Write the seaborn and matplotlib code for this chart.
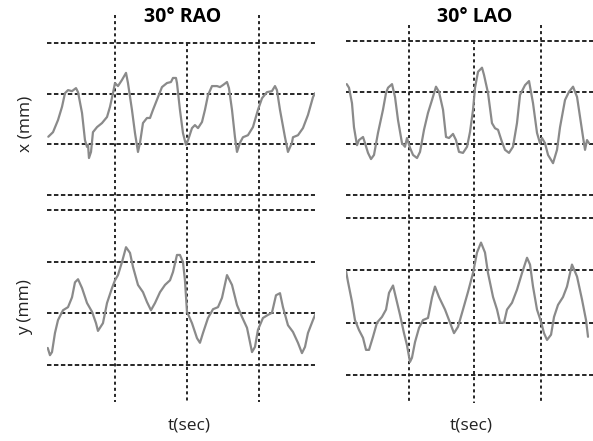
import numpy as np
import pandas as pd
import matplotlib
matplotlib.use("Agg")
import matplotlib.pyplot as plt
import seaborn as sns

# ---------------- data ----------------
titles = ["30° RAO", "30° LAO"]
row_labels = ["x (mm)", "y (mm)"]
xlabel = "t(sec)"
h_grid = [0, 1, 2, 3]
t_grid = [0.94, 1.93, 2.93]

t_rao_x = [0.018, 0.083, 0.152, 0.207, 0.248, 0.290, 0.345, 0.400, 0.428, 0.483, 0.524, 0.552, 0.566, 0.579, 0.607,
           0.634, 0.690, 0.759, 0.828, 0.869, 0.910, 0.938, 0.979, 1.034, 1.090, 1.117, 1.172, 1.214, 1.255, 1.283,
           1.324, 1.379, 1.421, 1.462, 1.531, 1.586, 1.655, 1.710, 1.738, 1.779, 1.793, 1.834, 1.876, 1.917, 1.945,
           2.000, 2.041, 2.083, 2.138, 2.179, 2.221, 2.276, 2.345, 2.386, 2.428, 2.483, 2.510, 2.552, 2.593, 2.621,
           2.662, 2.703, 2.772, 2.841, 2.910, 2.966, 3.034, 3.103, 3.145, 3.172, 3.214, 3.283, 3.324, 3.379, 3.393,
           3.462, 3.531, 3.600, 3.669, 3.697]
v_rao_x = [1.15, 1.24, 1.48, 1.74, 2.01, 2.07, 2.05, 2.11, 2.03, 1.62, 1.08, 0.95, 0.99, 0.73, 0.85,
           1.24, 1.34, 1.42, 1.54, 1.74, 2.01, 2.21, 2.15, 2.27, 2.41, 2.21, 1.68, 1.22, 0.85, 1.03,
           1.42, 1.52, 1.52, 1.68, 1.93, 2.13, 2.21, 2.23, 2.31, 2.31, 2.21, 1.68, 1.22, 0.99, 1.08,
           1.32, 1.38, 1.32, 1.44, 1.68, 1.97, 2.15, 2.15, 2.13, 2.17, 2.23, 2.11, 1.68, 1.14, 0.85,
           1.03, 1.14, 1.18, 1.34, 1.68, 1.91, 2.03, 2.05, 2.15, 2.07, 1.68, 1.14, 0.85, 1.03, 1.14,
           1.18, 1.32, 1.58, 1.93, 2.01]

t_rao_y = [0.010, 0.041, 0.069, 0.110, 0.152, 0.221, 0.290, 0.345, 0.386, 0.428, 0.483, 0.552, 0.621, 0.676, 0.703,
           0.772, 0.828, 0.897, 0.938, 0.979, 1.034, 1.090, 1.145, 1.186, 1.255, 1.324, 1.379, 1.434, 1.490, 1.559,
           1.628, 1.697, 1.738, 1.793, 1.834, 1.876, 1.903, 1.931, 2.000, 2.069, 2.110, 2.152, 2.221, 2.290, 2.359,
           2.414, 2.483, 2.552, 2.621, 2.690, 2.759, 2.828, 2.869, 2.910, 2.979, 3.048, 3.103, 3.159, 3.214, 3.255,
           3.324, 3.393, 3.462, 3.517, 3.559, 3.600, 3.669, 3.710]
v_rao_y = [0.33, 0.19, 0.25, 0.62, 0.87, 1.06, 1.12, 1.31, 1.60, 1.66, 1.49, 1.20, 1.03, 0.81, 0.66,
           0.81, 1.20, 1.49, 1.64, 1.74, 1.99, 2.28, 2.17, 1.90, 1.55, 1.41, 1.22, 1.06, 1.20, 1.41,
           1.55, 1.64, 1.80, 2.13, 2.13, 1.99, 1.64, 1.03, 0.81, 0.52, 0.43, 0.62, 0.91, 1.08, 1.12,
           1.30, 1.74, 1.55, 1.16, 0.93, 0.72, 0.25, 0.35, 0.68, 0.91, 0.97, 1.01, 1.35, 1.39, 1.12,
           0.77, 0.64, 0.43, 0.23, 0.35, 0.62, 0.87, 1.01]

t_lao_x = [0.011, 0.045, 0.090, 0.120, 0.165, 0.195, 0.256, 0.286, 0.331, 0.376, 0.421, 0.481, 0.556, 0.602, 0.632,
           0.692, 0.737, 0.782, 0.842, 0.887, 0.917, 0.962, 1.008, 1.068, 1.113, 1.173, 1.233, 1.293, 1.353, 1.398,
           1.459, 1.504, 1.549, 1.609, 1.654, 1.699, 1.759, 1.820, 1.865, 1.910, 1.940, 1.985, 2.045, 2.075, 2.135,
           2.195, 2.241, 2.286, 2.346, 2.391, 2.451, 2.511, 2.571, 2.617, 2.692, 2.752, 2.812, 2.872, 2.917, 2.947,
           2.992, 3.038, 3.113, 3.173, 3.218, 3.293, 3.353, 3.414, 3.474, 3.519, 3.564, 3.594, 3.624, 3.654]
v_lao_x = [2.16, 2.09, 1.79, 1.32, 0.97, 1.07, 1.13, 1.01, 0.82, 0.70, 0.78, 1.21, 1.66, 1.99, 2.09,
           2.16, 1.91, 1.46, 1.01, 0.94, 1.11, 0.92, 0.78, 0.72, 0.84, 1.27, 1.60, 1.85, 2.11, 2.01,
           1.66, 1.13, 1.11, 1.19, 1.07, 0.84, 0.82, 0.94, 1.23, 1.66, 2.09, 2.40, 2.48, 2.34, 1.99,
           1.40, 1.30, 1.27, 1.03, 0.88, 0.82, 0.94, 1.40, 1.95, 2.14, 2.22, 1.79, 1.21, 1.01, 1.11,
           1.01, 0.78, 0.62, 0.88, 1.32, 1.85, 2.01, 2.11, 1.91, 1.52, 1.13, 0.88, 1.07, 1.01]

t_lao_y = [0.000, 0.030, 0.090, 0.135, 0.195, 0.256, 0.301, 0.346, 0.406, 0.466, 0.541, 0.602, 0.647, 0.707, 0.752,
           0.812, 0.872, 0.917, 0.962, 0.992, 1.038, 1.098, 1.158, 1.233, 1.293, 1.338, 1.398, 1.489, 1.564, 1.624,
           1.684, 1.759, 1.835, 1.910, 1.970, 2.030, 2.090, 2.135, 2.211, 2.271, 2.316, 2.376, 2.421, 2.496, 2.571,
           2.647, 2.722, 2.767, 2.812, 2.872, 2.932, 2.977, 3.023, 3.083, 3.128, 3.188, 3.263, 3.323, 3.398, 3.474,
           3.549, 3.609, 3.639]
v_lao_y = [1.99, 1.78, 1.40, 1.05, 0.86, 0.71, 0.48, 0.48, 0.73, 1.00, 1.11, 1.25, 1.57, 1.71, 1.47,
           1.15, 0.80, 0.57, 0.25, 0.33, 0.63, 0.90, 1.05, 1.09, 1.48, 1.69, 1.49, 1.25, 1.00, 0.80,
           0.92, 1.25, 1.59, 1.95, 2.34, 2.53, 2.34, 1.95, 1.49, 1.25, 1.00, 1.00, 1.25, 1.38, 1.63,
           1.95, 2.24, 2.11, 1.69, 1.25, 1.02, 0.80, 0.67, 0.77, 1.11, 1.34, 1.49, 1.69, 2.11, 1.88,
           1.44, 1.05, 0.73]

# ---------------- style / layout ----------------
W, H = 593, 441
sns.set_theme(style="white")
plt.rcParams["font.family"] = ["Open Sans", "DejaVu Sans"]
plt.rcParams["lines.scale_dashes"] = False

fig = plt.figure(figsize=(W / 100, H / 100), dpi=100)
fig.patch.set_facecolor("white")

def px_axes(x0, y0, x1, y1):
    return fig.add_axes([x0 / W, 1 - y1 / H, (x1 - x0) / W, (y1 - y0) / H])

grid_color = "#262626"
line_color = "#8a8a8a"
text_color = "#222222"
hdash = (0, (3.2, 1.8))
vdash = (0, (2.2, 2.2))

columns = [
    dict(x0=47, x1=315, boxes=[(43, 195), (210, 365)], xmax=3.697,
         vtop_outer=15, vtop_mid=43, vbot=402,
         series=[(t_rao_x, v_rao_x), (t_rao_y, v_rao_y)], title_x=183, xlab_x=189),
    dict(x0=346, x1=593, boxes=[(41, 195), (218, 375)], xmax=3.714,
         vtop_outer=25, vtop_mid=41, vbot=403,
         series=[(t_lao_x, v_lao_x), (t_lao_y, v_lao_y)], title_x=475, xlab_x=471),
]

for ci, col in enumerate(columns):
    ov = px_axes(col["x0"], 0, col["x1"], H)
    ov.set_xlim(0, col["xmax"])
    ov.set_ylim(H, 0)
    ov.axis("off")
    for k, tg in enumerate(t_grid):
        top = col["vtop_mid"] if k == 1 else col["vtop_outer"]
        ov.vlines(tg, top, col["vbot"], colors=grid_color, linewidth=1.4, linestyles=[vdash])

    for ri, (y0, y1) in enumerate(col["boxes"]):
        ax = px_axes(col["x0"], y0, col["x1"], y1)
        ax.set_xlim(0, col["xmax"])
        ax.set_ylim(h_grid[0], h_grid[-1])
        ax.patch.set_alpha(0)
        for hg in h_grid:
            ax.axhline(hg, color=grid_color, linewidth=1.4, linestyle=hdash, clip_on=False, zorder=1)
        t, v = col["series"][ri]
        df = pd.DataFrame({"t": t, "v": v})
        sns.lineplot(data=df, x="t", y="v", ax=ax, color=line_color, linewidth=1.6,
                     estimator=None, sort=False, zorder=3)
        ax.axis("off")

    fig.text(col["title_x"] / W, 1 - 17 / H, titles[ci], ha="center", va="center",
             fontsize=14, fontweight="bold", color="black")
    fig.text(col["xlab_x"] / W, 1 - 426 / H, xlabel, ha="center", va="center",
             fontsize=12.5, color=text_color)

fig.text(25 / W, 1 - 124 / H, row_labels[0], rotation=90, ha="center", va="center",
         fontsize=12.5, color=text_color)
fig.text(25 / W, 1 - 307 / H, row_labels[1], rotation=90, ha="center", va="center",
         fontsize=12.5, color=text_color)

fig.savefig("out.png", dpi=100)
